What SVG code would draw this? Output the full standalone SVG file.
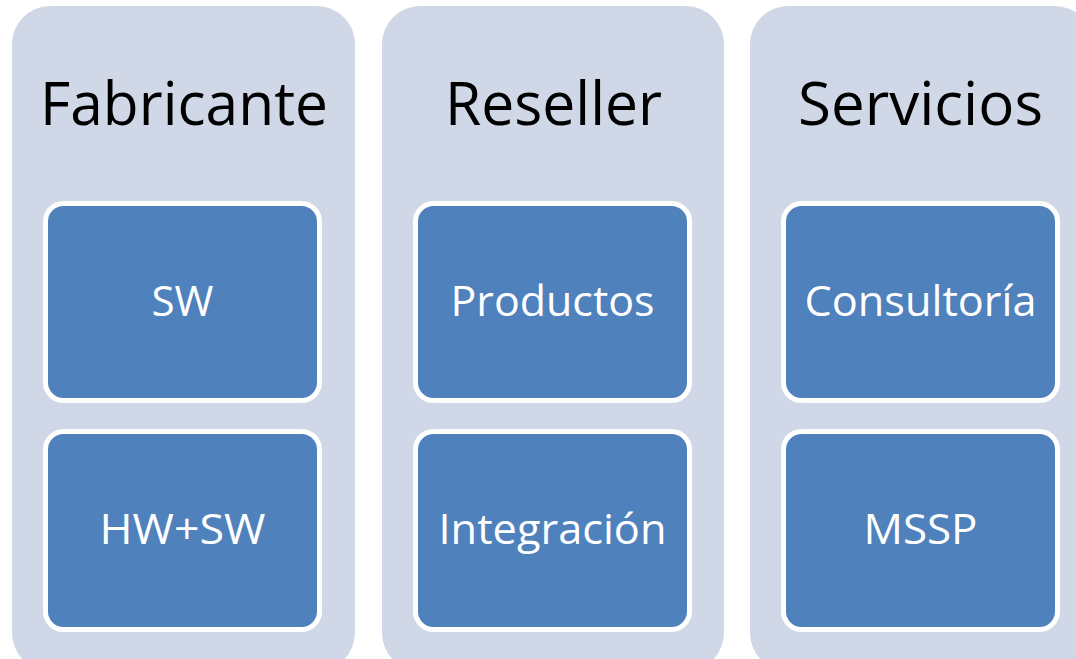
<svg xmlns="http://www.w3.org/2000/svg" width="1076" height="659" viewBox="0 0 1076 659">
<style>
.col{fill:#D0D8E8}
.box{fill:#4F81BD;stroke:#FFFFFF;stroke-width:5}
.title{font-family:"Open Sans","Liberation Sans",sans-serif;font-size:61px;fill:#000000;text-anchor:middle}
.lbl{font-family:"Open Sans","Liberation Sans",sans-serif;font-size:42px;fill:#FFFFFF;text-anchor:middle}
</style>
<rect width="1076" height="659" fill="#FFFFFF"/>
<g id="col-fabricante">
<rect class="col" x="12" y="6" width="343" height="665" rx="38"/>
<text class="title" x="184" y="125" textLength="288" lengthAdjust="spacingAndGlyphs">Fabricante</text>
</g>
<g id="col-reseller">
<rect class="col" x="382" y="6" width="342" height="665" rx="38"/>
<text class="title" x="553.5" y="125" textLength="217" lengthAdjust="spacingAndGlyphs">Reseller</text>
</g>
<g id="col-servicios">
<rect class="col" x="750" y="6" width="343" height="665" rx="38"/>
<text class="title" x="920.5" y="125" textLength="245" lengthAdjust="spacingAndGlyphs">Servicios</text>
</g>
<g id="node-sw">
<rect class="box" x="45.5" y="203.5" width="274" height="197" rx="18"/>
<text class="lbl" x="182.5" y="316" textLength="62" lengthAdjust="spacingAndGlyphs">SW</text>
</g>
<g id="node-hwsw">
<rect class="box" x="45.5" y="431.5" width="274" height="198" rx="18"/>
<text class="lbl" x="182.5" y="544" textLength="166" lengthAdjust="spacingAndGlyphs">HW+SW</text>
</g>
<g id="node-productos">
<rect class="box" x="415.5" y="203.5" width="274" height="197" rx="18"/>
<text class="lbl" x="552.5" y="316" textLength="204" lengthAdjust="spacingAndGlyphs">Productos</text>
</g>
<g id="node-integracion">
<rect class="box" x="415.5" y="431.5" width="274" height="198" rx="18"/>
<text class="lbl" x="552.5" y="544" textLength="228" lengthAdjust="spacingAndGlyphs">Integración</text>
</g>
<g id="node-consultoria">
<rect class="box" x="783.5" y="203.5" width="274" height="197" rx="18"/>
<text class="lbl" x="920.5" y="316" textLength="232" lengthAdjust="spacingAndGlyphs">Consultoría</text>
</g>
<g id="node-mssp">
<rect class="box" x="783.5" y="431.5" width="274" height="198" rx="18"/>
<text class="lbl" x="920.5" y="544" textLength="114" lengthAdjust="spacingAndGlyphs">MSSP</text>
</g>
<g id="connectors"/>
</svg>
